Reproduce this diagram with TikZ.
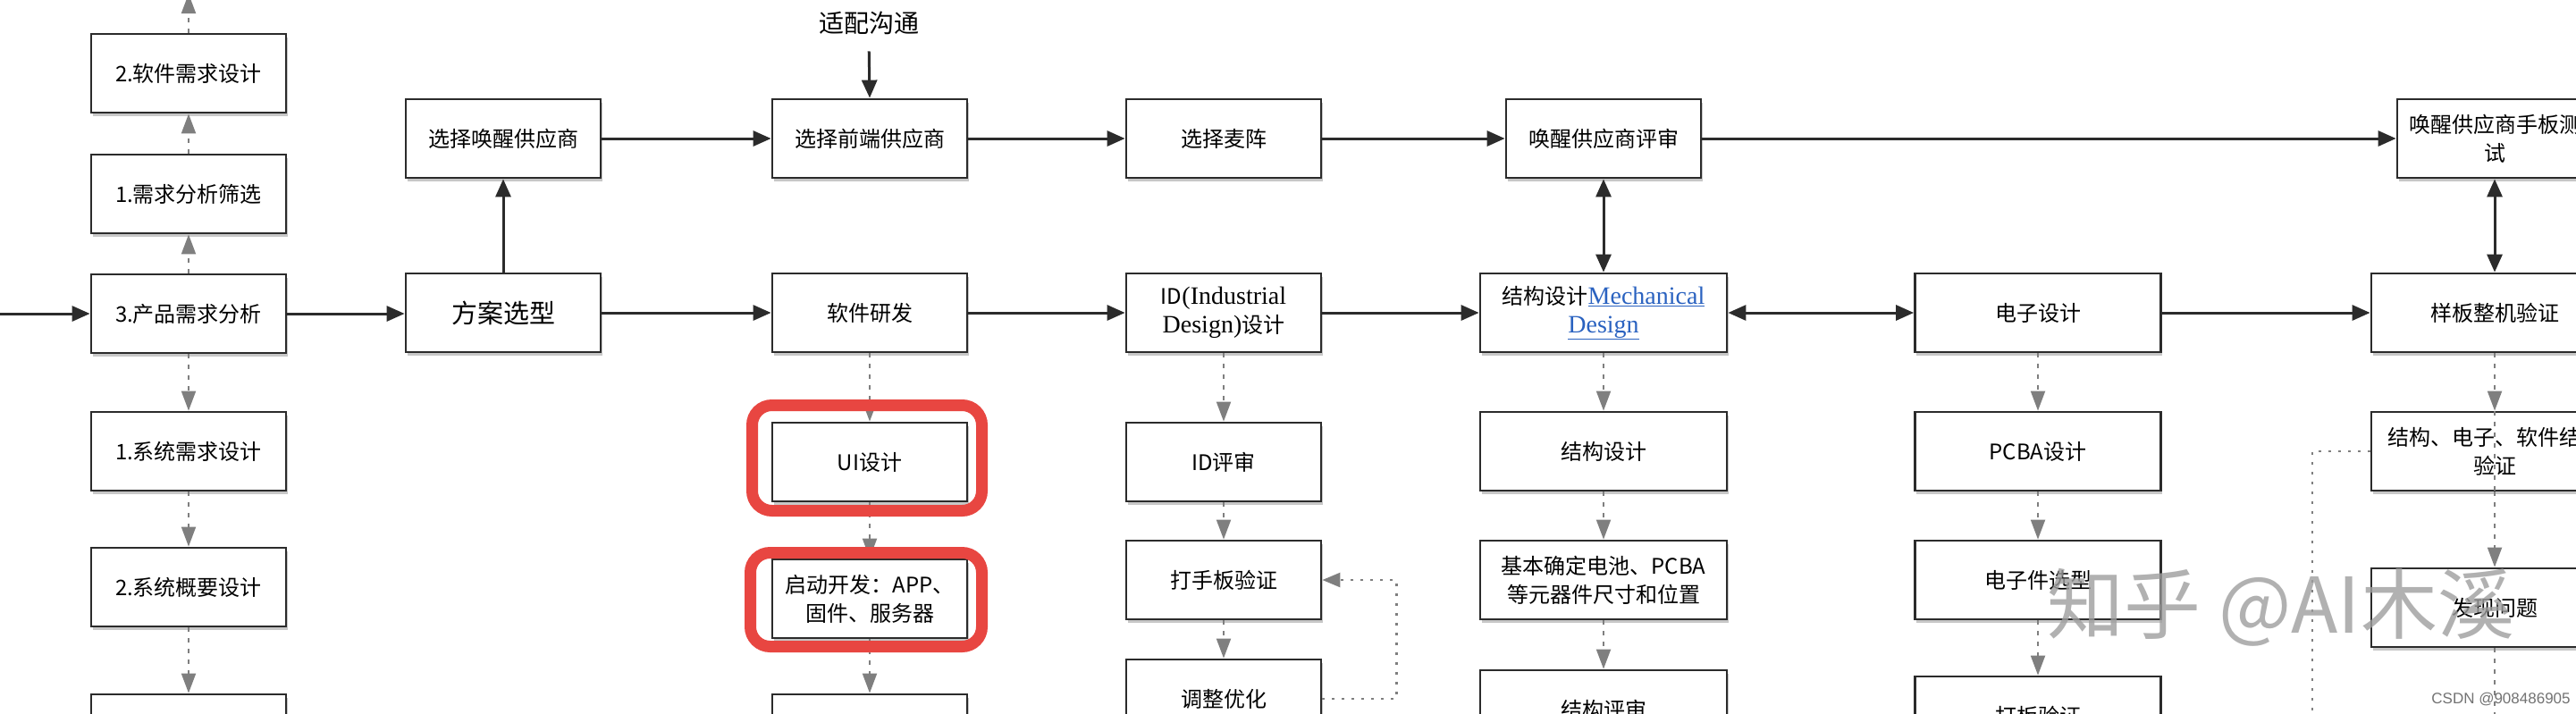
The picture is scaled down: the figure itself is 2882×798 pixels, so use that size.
\documentclass[tikz,border=0pt]{standalone}
\usepackage{fontspec}
\setmainfont{Noto Sans CJK SC}
\newfontfamily\serifen{Liberation Serif}
\newfontfamily\latinsans{Liberation Sans}
\usetikzlibrary{arrows.meta,shadows}
\definecolor{framered}{HTML}{E84641}
\definecolor{linkblue}{HTML}{2A62C0}
\definecolor{boxline}{HTML}{2B2B2B}
\definecolor{dashgray}{HTML}{7F7F7F}
\newcommand\enserif[1]{{\serifen\fontsize{28}{32}\selectfont #1}}
\tikzset{
 box/.style={draw=boxline, line width=2.8pt, fill=white, minimum width=218pt, minimum height=88pt,
   align=center, inner sep=3pt, font=\fontsize{24}{32}\selectfont,
   drop shadow={shadow xshift=1.5pt, shadow yshift=-3.5pt, fill=black, opacity=0.22}},
 wide/.style={box, minimum width=276pt},
 solidarrow/.style={draw=boxline, line width=3pt, -{Triangle[length=20pt,width=17pt]}},
 bothway/.style={draw=boxline, line width=3pt, {Triangle[length=20pt,width=17pt]}-{Triangle[length=20pt,width=17pt]}},
 dasharrow/.style={draw=dashgray, line width=2pt, dash pattern=on 5pt off 7pt, -{Triangle[length=22pt,width=16pt]}},
 dashline/.style={draw=dashgray, line width=2pt, dash pattern=on 5pt off 7pt},
 loopline/.style={draw=dashgray, line width=2.5pt, dash pattern=on 3pt off 8pt},
 redframe/.style={draw=framered, line width=13pt, rounded corners=22pt},
}
\begin{document}
\begin{tikzpicture}[x=1pt,y=-1pt]
\useasboundingbox (0,0) rectangle (2882,798);
\fill[white] (0,0) rectangle (2882,798);
\begin{scope}
\clip (0,0) rectangle (2882,798);
% column 1
\node[box] (sr) at (211,82) {2.软件需求设计};
\node[box] (xf) at (211,217) {1.需求分析筛选};
\node[box] (cp) at (211,351) {3.产品需求分析};
\node[box] (xt) at (211,505) {1.系统需求设计};
\node[box] (gy) at (211,657) {2.系统概要设计};
\node[box] (cf) at (211,821) {};
% row 1
\node[box] (hx) at (563,155) {选择唤醒供应商};
\node[box] (qd) at (973,155) {选择前端供应商};
\node[box] (mz) at (1369,155) {选择麦阵};
\node[box] (ps) at (1794,155) {唤醒供应商评审};
\node[box] (sb) at (2791,155) {唤醒供应商手板测\\试};
\node[font=\fontsize{28}{28}\selectfont] (adapt) at (972,26) {适配沟通};
% row 2
\node[box, font=\fontsize{29}{34}\selectfont] (fa) at (563,350) {方案选型};
\node[box] (rj) at (973,350) {软件研发};
\node[box] (id) at (1369,350) {ID\enserif{(Industrial}\\\enserif{Design)}设计};
\node[wide] (jm) at (1794,350) {结构设计{\color{linkblue}\enserif{\underline{Mechanical}}}\\{\color{linkblue}\enserif{\underline{Design}}}};
\node[box, minimum width=275pt] (dz) at (2280,350) {电子设计};
\node[wide] (yb) at (2791,350) {样板整机验证};
% column 3
\node[box] (ui) at (973,517) {UI设计};
\node[box] (qk) at (973,670) {启动开发：APP、\\固件、服务器};
\node[box] (c3f) at (973,821) {};
% column 4
\node[box] (ip) at (1369,517) {ID评审};
\node[box] (ds) at (1369,649) {打手板验证};
\node[box] (tz) at (1369,782) {调整优化};
% column 5
\node[wide] (jg) at (1794,505) {结构设计};
\node[wide] (jb) at (1794,649) {基本确定电池、PCBA\\等元器件尺寸和位置};
\node[wide] (jp) at (1794,794) {结构评审};
% column 6
\node[box, minimum width=275pt] (pc) at (2280,505) {PCBA设计};
\node[box, minimum width=275pt] (xx) at (2280,649) {电子件选型};
\node[box, minimum width=275pt] (db) at (2280,801) {打板验证};
% column 7
\node[wide] (jh) at (2791,505) {结构、电子、软件结合\\验证};
\node[wide] (fx) at (2791,680) {发现问题};

% free ends
\coordinate (in0) at (0,351);
\coordinate (topout) at (211,-7);
\coordinate (botout) at (2791,800);
\coordinate (loopend) at (2587,800);

% solid arrows
\draw[solidarrow] (in0) -- (cp.west);
\draw[solidarrow] (cp.east) -- (cp.east -| fa.west);
\draw[solidarrow] (fa.north) -- (hx.south);
\draw[solidarrow] (hx.east) -- (qd.west);
\draw[solidarrow, shorten <=15pt] (adapt.south) -- (qd.north);
\draw[solidarrow] (qd.east) -- (mz.west);
\draw[solidarrow] (mz.east) -- (ps.west);
\draw[solidarrow] (ps.east) -- (sb.west);
\draw[bothway] (ps.south) -- (jm.north);
\draw[bothway] (sb.south) -- (yb.north);
\draw[solidarrow] (fa.east) -- (rj.west);
\draw[solidarrow] (rj.east) -- (id.west);
\draw[solidarrow] (id.east) -- (jm.west);
\draw[bothway] (jm.east) -- (dz.west);
\draw[solidarrow] (dz.east) -- (yb.west);

% dashed arrows
\draw[dasharrow] (cp.north) -- (xf.south);
\draw[dasharrow] (xf.north) -- (sr.south);
\draw[dasharrow] (sr.north) -- (topout);
\draw[dasharrow] (cp.south) -- (xt.north);
\draw[dasharrow] (xt.south) -- (gy.north);
\draw[dasharrow] (gy.south) -- (cf.north);
\draw[dasharrow] (rj.south) -- (ui.north);
\draw[dasharrow] (ui.south) -- (qk.north);
\draw[dasharrow] (qk.south) -- (c3f.north);
\draw[dasharrow] (id.south) -- (ip.north);
\draw[dasharrow] (ip.south) -- (ds.north);
\draw[dasharrow] (ds.south) -- (tz.north);
\draw[dasharrow] (jm.south) -- (jg.north);
\draw[dasharrow] (jg.south) -- (jb.north);
\draw[dasharrow] (jb.south) -- (jp.north);
\draw[dasharrow] (dz.south) -- (pc.north);
\draw[dasharrow] (pc.south) -- (xx.north);
\draw[dasharrow] (xx.south) -- (db.north);
\draw[dasharrow] (yb.south) -- (jh.north);
\draw[dashline] (jh.north) -- (jh.south);
\draw[dasharrow] (jh.south) -- (fx.north);
\draw[dashline] (fx.south) -- (botout);

% dotted loops
\draw[loopline, -{Triangle[length=20pt,width=16pt]}] (tz.east) -- ++(83,0) |- (ds.east);
\draw[loopline] (jh.west) -| (loopend);

% red highlight frames
\draw[redframe] (841.5,453.5) rectangle (1098.5,571.5);
\draw[redframe] (839.5,618.5) rectangle (1098.5,723.5);

% watermarks
\node[font=\fontsize{86}{86}\selectfont, text=black!38, opacity=0.8] (wm) at (2552,680) {知乎 @AI木溪};
\node[font=\latinsans\fontsize{17}{17}\selectfont, text=black!55] (csdn) at (2798,783) {CSDN @908486905};
\end{scope}
\end{tikzpicture}
\end{document}
